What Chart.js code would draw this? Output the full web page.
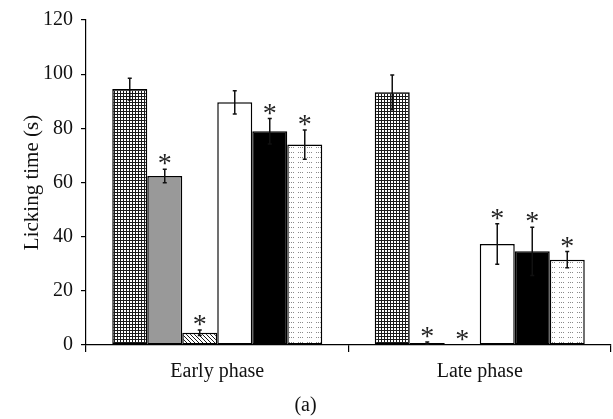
<!DOCTYPE html>
<html>
<head>
<meta charset="utf-8">
<script src="https://cdn.jsdelivr.net/npm/chart.js@4.4.0/dist/chart.umd.min.js"></script>
<style>
  html, body { margin: 0; padding: 0; background: #fff; }
  #wrap { width: 613px; height: 419px; }
</style>
</head>
<body>
<div id="wrap"><canvas id="lickChart" width="613" height="419"></canvas></div>
<script>
// licking time per group, early vs late phase
const categories = ['Early phase', 'Late phase'];
const groupNames = ['Group 1', 'Group 2', 'Group 3', 'Group 4', 'Group 5', 'Group 6'];

const group1 = [94.5, 93.3];
const group2 = [62.4, 0.7];
const group3 = [4.5, 0];
const group4 = [89.6, 37.3];
const group5 = [78.9, 34.6];
const group6 = [74.0, 31.5];

const group1Err = [4.0, 6.4];
const group2Err = [2.5, 0.4];
const group3Err = [1.0, 0];
const group4Err = [4.3, 7.5];
const group5Err = [4.7, 8.9];
const group6Err = [5.4, 3.0];

const group1Star = [false, false];
const group2Star = [true, true];
const group3Star = [true, true];
const group4Star = [false, true];
const group5Star = [true, true];
const group6Star = [true, true];

const yTicks = [0, 20, 40, 60, 80, 100, 120];

const serif = '"Liberation Serif", "Times New Roman", serif';

function makePattern(w, h, draw) {
    const c = document.createElement('canvas');
    c.width = w;
    c.height = h;
    const g = c.getContext('2d');
    g.fillStyle = '#fff';
    g.fillRect(0, 0, w, h);
    draw(g);
    return c.getContext('2d').createPattern(c, 'repeat');
}

const ctx = document.getElementById('lickChart').getContext('2d');

const gridFill = makePattern(3, 3, g => {
    g.fillStyle = '#1a1a1a';
    g.fillRect(0, 0, 3, 1);
    g.fillRect(0, 0, 1, 3);
});
const hatchFill = makePattern(4, 4, g => {
    g.fillStyle = '#1a1a1a';
    for (let i = 0; i < 4; i++) g.fillRect(i, i, 1, 1);
});
const dotFill = makePattern(9, 5, g => {
    g.fillStyle = '#8a8a8a';
    g.fillRect(1, 2, 1, 1);
    g.fillRect(3, 2, 1, 1);
    g.fillRect(5, 2, 1, 1);
});

const values = [group1, group2, group3, group4, group5, group6];
const errors = [group1Err, group2Err, group3Err, group4Err, group5Err, group6Err];
const stars = [group1Star, group2Star, group3Star, group4Star, group5Star, group6Star];
const fills = [gridFill, '#999999', hatchFill, '#ffffff', '#000000', dotFill];

const errorBars = {
    id: 'errorBars',
    afterDatasetsDraw(chart) {
        const c = chart.ctx;
        const y = chart.scales.y;
        c.save();
        c.strokeStyle = '#111';
        c.lineWidth = 1.5;
        chart.data.datasets.forEach((ds, i) => {
            const meta = chart.getDatasetMeta(i);
            meta.data.forEach((bar, j) => {
                const v = ds.data[j];
                const e = ds.err[j];
                const top = y.getPixelForValue(v + e);
                const bot = y.getPixelForValue(v - e);
                if (e > 0) {
                    c.beginPath();
                    c.moveTo(bar.x, top);
                    c.lineTo(bar.x, bot);
                    c.moveTo(bar.x - 2, top);
                    c.lineTo(bar.x + 2, top);
                    c.moveTo(bar.x - 2, bot);
                    c.lineTo(bar.x + 2, bot);
                    c.stroke();
                }
                if (ds.star[j]) {
                    c.fillStyle = '#222';
                    c.font = '28px ' + serif;
                    c.textAlign = 'center';
                    c.textBaseline = 'alphabetic';
                    c.fillText('*', bar.x, top + 3);
                }
            });
        });
        c.restore();
    }
};

new Chart(ctx, {
    type: 'bar',
    data: {
        labels: categories,
        datasets: values.map((v, i) => ({
            label: groupNames[i],
            data: v,
            err: errors[i],
            star: stars[i],
            backgroundColor: fills[i],
            borderColor: '#000',
            borderWidth: 1.5,
            borderSkipped: false,
            barPercentage: 1.0,
            categoryPercentage: 0.8
        }))
    },
    options: {
        responsive: false,
        animation: false,
        layout: { padding: { top: 20, right: 2, left: 0, bottom: 0 } },
        plugins: {
            legend: { display: false },
            tooltip: { enabled: false },
            title: {
                display: true,
                position: 'bottom',
                text: '(a)',
                color: '#111',
                font: { family: serif, size: 20, weight: 'normal' },
                padding: { top: 0, bottom: 1 }
            }
        },
        scales: {
            y: {
                min: 0,
                max: 120,
                afterFit: s => { s.width = 86; },
                afterBuildTicks: s => { s.ticks = yTicks.map(v => ({ value: v })); },
                border: { display: true, color: '#000', width: 1.2 },
                grid: { display: true, drawOnChartArea: false, drawTicks: true, tickLength: 5, color: '#000', lineWidth: 1.2 },
                ticks: { color: '#111', padding: 8, font: { family: serif, size: 20 } },
                title: {
                    display: true,
                    text: 'Licking time (s)',
                    color: '#111',
                    font: { family: serif, size: 21 },
                    padding: { top: 20, bottom: 0 }
                }
            },
            x: {
                afterFit: s => { s.height = 49; },
                border: { display: true, color: '#000', width: 1.2 },
                grid: { display: true, offset: true, drawOnChartArea: false, drawTicks: true, tickLength: 7, color: '#000', lineWidth: 1.2 },
                ticks: { color: '#111', padding: 8, font: { family: serif, size: 20 } }
            }
        }
    },
    plugins: [errorBars]
});
</script>
</body>
</html>
